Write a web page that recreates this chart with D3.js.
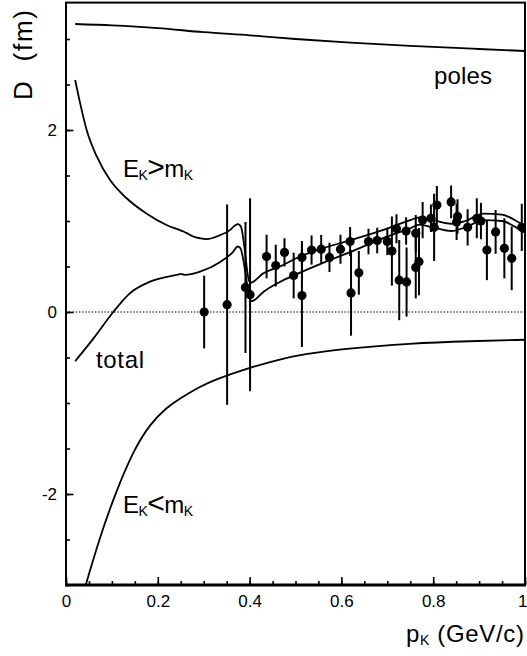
<!DOCTYPE html>
<html>
<head>
<meta charset="utf-8">
<script src="https://cdn.jsdelivr.net/npm/d3@7"></script>
<style>
  html, body { margin: 0; padding: 0; background: #fff; }
  text { font-family: "Liberation Sans", Arial, sans-serif; fill: #000; }
</style>
</head>
<body>
<svg id="chart" width="527" height="656"></svg>
<script>
// ---------------- data ----------------
const xTicks = [0, 0.2, 0.4, 0.6, 0.8, 1];
const yTicks = [-2, 0, 2];
const xMinor = d3.range(0, 1.0001, 0.05);
const yMinor = d3.range(-3, 3.4, 0.5);

const polesP = [0.02, 0.1, 0.2, 0.3, 0.4, 0.5, 0.62, 0.75, 0.9, 1.0];
const polesD = [3.165, 3.15, 3.12, 3.075, 3.04, 3.0, 2.96, 2.925, 2.89, 2.868];

const egtP = [0.02, 0.031, 0.045, 0.067, 0.096, 0.132, 0.176, 0.219, 0.248, 0.256, 0.262, 0.277, 0.292, 0.306, 0.336, 0.357, 0.368, 0.375, 0.381, 0.401, 0.405, 0.43, 0.466, 0.51, 0.56, 0.62, 0.69, 0.75, 0.77, 0.80, 0.84, 0.87, 0.91, 0.95, 0.99, 1.0];
const egtD = [2.55, 2.29, 2.0, 1.71, 1.45, 1.25, 1.08, 0.956, 0.90, 0.885, 0.87, 0.83, 0.81, 0.80, 0.845, 0.90, 0.95, 0.965, 0.94, 0.32, 0.325, 0.425, 0.50, 0.61, 0.70, 0.79, 0.90, 1.01, 1.04, 1.01, 0.97, 1.0, 1.08, 1.07, 0.975, 0.95];

const totP = [0.02, 0.06, 0.103, 0.139, 0.183, 0.241, 0.250, 0.259, 0.292, 0.336, 0.364, 0.374, 0.380, 0.404, 0.41, 0.43, 0.466, 0.50, 0.56, 0.62, 0.69, 0.75, 0.77, 0.80, 0.84, 0.87, 0.91, 0.95, 0.99, 1.0];
const totD = [-0.54, -0.29, 0.0, 0.205, 0.333, 0.407, 0.418, 0.407, 0.443, 0.55, 0.66, 0.72, 0.70, 0.12, 0.13, 0.22, 0.33, 0.41, 0.54, 0.66, 0.81, 0.92, 0.96, 0.93, 0.89, 0.93, 1.01, 1.0, 0.90, 0.87];

const eltP = [0.0436, 0.074, 0.107, 0.147, 0.183, 0.219, 0.248, 0.292, 0.321, 0.394, 0.466, 0.51, 0.611, 0.75, 0.88, 1.0];
const eltD = [-2.99, -2.47, -2.0, -1.52, -1.23, -1.05, -0.95, -0.82, -0.75, -0.62, -0.52, -0.47, -0.40, -0.345, -0.32, -0.305];

const dataP = [0.301, 0.351, 0.391, 0.401, 0.437, 0.457, 0.476, 0.496, 0.514, 0.514, 0.535, 0.556, 0.574, 0.598, 0.619, 0.621, 0.638, 0.659, 0.678, 0.700, 0.710, 0.720, 0.726, 0.741, 0.742, 0.762, 0.762, 0.769, 0.777, 0.795, 0.802, 0.808, 0.839, 0.853, 0.851, 0.875, 0.895, 0.904, 0.917, 0.936, 0.955, 0.971, 0.993];
const dataD = [0.00, 0.08, 0.27, 0.19, 0.61, 0.51, 0.655, 0.40, 0.60, 0.18, 0.68, 0.69, 0.60, 0.69, 0.775, 0.21, 0.43, 0.775, 0.785, 0.775, 0.67, 0.915, 0.35, 0.89, 0.33, 0.865, 0.49, 0.553, 1.01, 1.03, 0.93, 1.175, 1.21, 1.05, 0.99, 0.93, 1.03, 1.0, 0.68, 0.88, 0.70, 0.59, 0.93];
const dataE = [0.40, 1.10, 0.72, 1.06, 0.24, 0.23, 0.155, 0.25, 0.18, 0.565, 0.16, 0.155, 0.16, 0.16, 0.16, 0.47, 0.24, 0.14, 0.14, 0.15, 0.38, 0.16, 0.44, 0.15, 0.38, 0.20, 0.34, 0.37, 0.20, 0.15, 0.37, 0.21, 0.18, 0.19, 0.20, 0.20, 0.22, 0.20, 0.33, 0.24, 0.33, 0.35, 0.26];

// ---------------- layout ----------------
const svg = d3.select("#chart");
const L = 66, R = 525, T = 2.6, B = 585;
const x = d3.scaleLinear().domain([0, 1]).range([L, R]);
const y = d3.scaleLinear().domain([-3, 3.4]).range([B, T]);

svg.append("defs").append("clipPath").attr("id", "clip")
  .append("rect").attr("x", L).attr("y", T).attr("width", R - L).attr("height", B - T);

const plot = svg.append("g").attr("clip-path", "url(#clip)");

// zero line
plot.append("line")
  .attr("x1", x(0)).attr("x2", x(1)).attr("y1", y(0)).attr("y2", y(0))
  .attr("stroke", "#000").attr("stroke-width", 1.2).attr("stroke-dasharray", "1.5,1.7");

const lineMono = d3.line().x(d => x(d[0])).y(d => y(d[1])).curve(d3.curveMonotoneX);
const lineSmooth = d3.line().x(d => x(d[0])).y(d => y(d[1])).curve(d3.curveBasis);
function curve(P, D, gen) {
  plot.append("path").datum(P.map((p, i) => [p, D[i]]))
    .attr("d", gen).attr("fill", "none").attr("stroke", "#000").attr("stroke-width", 1.8);
}
curve(polesP, polesD, lineMono);
curve(egtP, egtD, lineMono);
curve(totP, totD, lineMono);
curve(eltP, eltD, lineSmooth);

// data with error bars
const pts = dataP.map((p, i) => ({ p, d: dataD[i], e: dataE[i] }));
plot.selectAll("line.err").data(pts).enter().append("line")
  .attr("class", "err")
  .attr("x1", d => x(d.p)).attr("x2", d => x(d.p))
  .attr("y1", d => y(d.d + d.e)).attr("y2", d => y(d.d - d.e))
  .attr("stroke", "#000").attr("stroke-width", 2);
plot.selectAll("circle.pt").data(pts).enter().append("circle")
  .attr("class", "pt")
  .attr("cx", d => x(d.p)).attr("cy", d => y(d.d)).attr("r", 4.6).attr("fill", "#000");

// axes
const fmtX = d => d === 0 ? "0" : d === 1 ? "1" : d.toFixed(1);
const fmtY = d => d < 0 ? "-" + Math.abs(d) : String(d);

const gx = svg.append("g").attr("transform", `translate(0,${B})`);
gx.call(d3.axisBottom(x).tickValues(xMinor).tickSize(-4).tickFormat(""));
const gx2 = svg.append("g").attr("transform", `translate(0,${B})`);
gx2.call(d3.axisBottom(x).tickValues(xTicks).tickSize(-8).tickPadding(10).tickFormat(fmtX));
gx2.selectAll(".tick").filter(d => d === 1).select("text")
  .attr("text-anchor", "end").attr("x", 2);

const gy = svg.append("g").attr("transform", `translate(${L},0)`);
gy.call(d3.axisLeft(y).tickValues(yMinor).tickSize(-4).tickFormat(""));
const gy2 = svg.append("g").attr("transform", `translate(${L},0)`);
gy2.call(d3.axisLeft(y).tickValues(yTicks).tickSize(-7.5).tickPadding(9).tickFormat(fmtY));

svg.selectAll(".domain").remove();
svg.selectAll(".tick line").attr("stroke", "#000").attr("stroke-width", 1.6);
svg.selectAll(".tick text").attr("font-size", 17).attr("font-family", "Liberation Sans, Arial, sans-serif").attr("fill", "#000");

// frame
svg.append("rect").attr("x", L).attr("y", T).attr("width", R - L).attr("height", B - T)
  .attr("fill", "none").attr("stroke", "#000").attr("stroke-width", 2);
svg.append("line").attr("x1", L - 1).attr("x2", R + 1).attr("y1", B).attr("y2", B)
  .attr("stroke", "#000").attr("stroke-width", 2.8);

// labels
function subLabel(x0, yb, parts, len) {
  const t = svg.append("text").attr("x", x0).attr("y", yb).attr("font-size", 24);
  parts.forEach(([s, kind], i) => {
    const ts = t.append("tspan").text(s);
    const prevSub = i > 0 && parts[i - 1][1] === 1;
    if (kind === 1) ts.attr("font-size", 14).attr("dy", 3);
    else if (prevSub) ts.attr("dy", -3);
    if (kind === 2) ts.attr("font-size", 30);
  });
  if (len) t.attr("textLength", len).attr("lengthAdjust", "spacing");
  return t;
}

svg.append("text").attr("x", 434).attr("y", 84).attr("font-size", 24)
  .attr("textLength", 58).attr("lengthAdjust", "spacing").text("poles");
svg.append("text").attr("x", 96).attr("y", 368).attr("font-size", 24)
  .attr("textLength", 48).attr("lengthAdjust", "spacing").text("total");

subLabel(123, 177, [["E"], ["K", 1], [">", 2], ["m"], ["K", 1]], 70);
subLabel(123, 513, [["E"], ["K", 1], ["<", 2], ["m"], ["K", 1]], 70);

// x axis title
subLabel(406, 642, [["p"], ["K", 1], [" (GeV/c)"]], 118);

// y axis title
svg.append("text").attr("transform", "translate(32,100) rotate(-90)")
  .attr("font-size", 26).attr("textLength", 90).attr("lengthAdjust", "spacing")
  .attr("xml:space", "preserve").text("D  (fm)");
</script>
</body>
</html>
